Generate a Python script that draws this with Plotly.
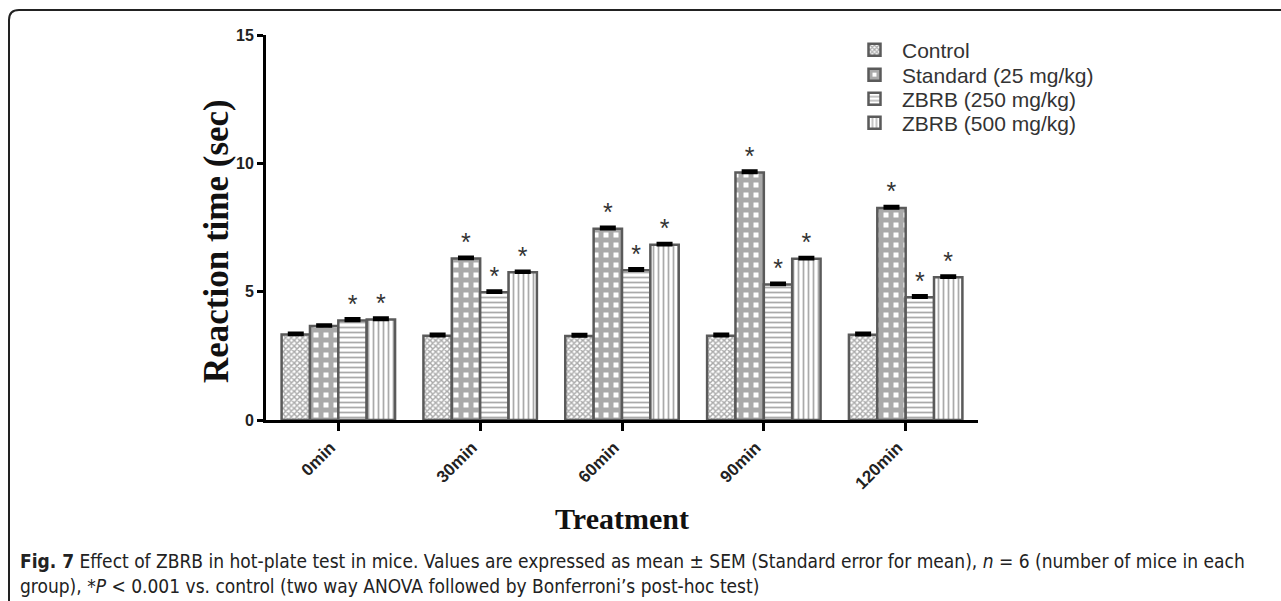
import plotly.graph_objects as go

categories = ["0min", "30min", "60min", "90min", "120min"]
series_names = ["Control", "Standard (25 mg/kg)", "ZBRB (250 mg/kg)", "ZBRB (500 mg/kg)"]
control = [3.33, 3.28, 3.27, 3.28, 3.32]
standard = [3.66, 6.29, 7.45, 9.64, 8.26]
zbrb250 = [3.88, 4.98, 5.83, 5.28, 4.78]
zbrb500 = [3.92, 5.76, 6.83, 6.28, 5.56]
sem_control = [0.05, 0.06, 0.06, 0.06, 0.06]
sem_standard = [0.04, 0.05, 0.06, 0.06, 0.06]
sem_zbrb250 = [0.06, 0.05, 0.06, 0.05, 0.06]
sem_zbrb500 = [0.05, 0.04, 0.05, 0.05, 0.05]
signif_control = [False] * 5
signif_standard = [False, True, True, True, True]
signif_zbrb250 = [True] * 5
signif_zbrb500 = [True] * 5
y_ticks = [0, 5, 10, 15]

values = [control, standard, zbrb250, zbrb500]
sems = [sem_control, sem_standard, sem_zbrb250, sem_zbrb500]
signifs = [signif_control, signif_standard, signif_zbrb250, signif_zbrb500]
patterns = [
    dict(shape="x", size=4, solidity=0.6, fgcolor="#555", bgcolor="white"),
    dict(shape="+", size=10, solidity=0.75, fgcolor="#555", bgcolor="white"),
    dict(shape="-", size=5, solidity=0.35, fgcolor="#555", bgcolor="white"),
    dict(shape="|", size=5, solidity=0.35, fgcolor="#555", bgcolor="white"),
]
legend_ids = ["legend", "legend2", "legend3", "legend4"]
legend_rows_px = [50, 75, 99, 123]

L, R, T, B = 266, 978, 35, 420
W, H = 1281, 601
def px(x):
    return (x - L) / (R - L)
def py(y):
    return (B - y) / (B - T)

xidx = list(range(len(categories)))
fig = go.Figure()
n = len(values)
bw = 0.8 / n
for k in range(n):
    fig.add_trace(go.Bar(
        x=xidx, y=values[k], name=series_names[k], width=bw,
        offset=-0.4 + k * bw, legend=legend_ids[k],
        marker=dict(color="white", pattern=patterns[k], line=dict(color="#5a5a5a", width=2.5)),
        error_y=dict(type="data", array=sems[k], arrayminus=[0] * len(categories), symmetric=False,
                     color="black", thickness=3.5, width=8),
    ))
    sx, sy = [], []
    for i in xidx:
        if signifs[k][i]:
            sx.append(i - 0.4 + (k + 0.5) * bw)
            sy.append(values[k][i] + sems[k][i])
    fig.add_trace(go.Scatter(
        x=sx, y=sy, mode="text", text=["*"] * len(sx), textposition="top center",
        textfont=dict(family="Liberation Sans, Arial", size=25, color="#333"),
        showlegend=False, hoverinfo="skip", cliponaxis=False,
    ))

frame_path = (f"M {px(9)},{py(601)} L {px(9)},{py(20)} "
              f"Q {px(9)},{py(10)} {px(19)},{py(10)} L {px(1281)},{py(10)}")

legend_common = dict(xanchor="left", yanchor="middle",
                     font=dict(family="Liberation Sans, Arial", size=21, color="#333"),
                     bgcolor="rgba(0,0,0,0)", itemwidth=45, tracegroupgap=0)
legends = {}
for lid, ry in zip(legend_ids, legend_rows_px):
    legends[lid] = dict(legend_common, x=px(847), y=py(ry))

fig.update_layout(
    width=W, height=H,
    margin=dict(l=L, r=W - R, t=T, b=H - B, pad=0),
    paper_bgcolor="white", plot_bgcolor="white",
    barmode="overlay",
    showlegend=True,
    **legends,
    xaxis=dict(range=[-0.51, 4.51], tickmode="array", tickvals=xidx, ticktext=categories,
               tickangle=-45, ticks="outside", ticklen=8, tickwidth=2.5, tickcolor="black",
               ticklabelshift=-8,
               showline=True, linewidth=3, linecolor="black", showgrid=False, zeroline=False,
               tickfont=dict(family="Liberation Sans, Arial", size=17, color="#222", weight="bold"),
               title=dict(text="<b>Treatment</b>", standoff=16,
                          font=dict(family="Liberation Serif, Times New Roman", size=30, color="#111"))),
    yaxis=dict(range=[0, 15], tickmode="array", tickvals=y_ticks,
               ticks="outside", ticklen=6, tickwidth=2.5, tickcolor="black",
               showline=True, linewidth=3, linecolor="black", showgrid=False, zeroline=False,
               tickfont=dict(family="Liberation Sans, Arial", size=16, color="#222", weight="bold")),
    shapes=[dict(type="path", xref="paper", yref="paper", path=frame_path,
                 line=dict(color="#222", width=2))],
)

fig.add_annotation(xref="paper", yref="paper", x=px(217), y=py(241), xanchor="center", yanchor="middle",
                   textangle=-90, showarrow=False,
                   font=dict(family="Liberation Serif, Times New Roman", size=35, color="#111"),
                   text="<b>Reaction time (sec)</b>")

cap_font = dict(family="DejaVu Sans Condensed, Liberation Sans Narrow, sans-serif", size=19, color="#222")
fig.add_annotation(xref="paper", yref="paper", x=px(18), y=py(561), xanchor="left", yanchor="middle",
                   showarrow=False, align="left", font=cap_font,
                   text="<b>Fig. 7</b> Effect of ZBRB in hot-plate test in mice. Values are expressed as mean ± SEM "
                        "(Standard error for mean), <i>n</i> = 6 (number of mice in each")
fig.add_annotation(xref="paper", yref="paper", x=px(18), y=py(586), xanchor="left", yanchor="middle",
                   showarrow=False, align="left", font=cap_font,
                   text="group), *<i>P</i> < 0.001 vs. control (two way ANOVA followed by Bonferroni’s post-hoc test)")

fig.write_html("out.html")
